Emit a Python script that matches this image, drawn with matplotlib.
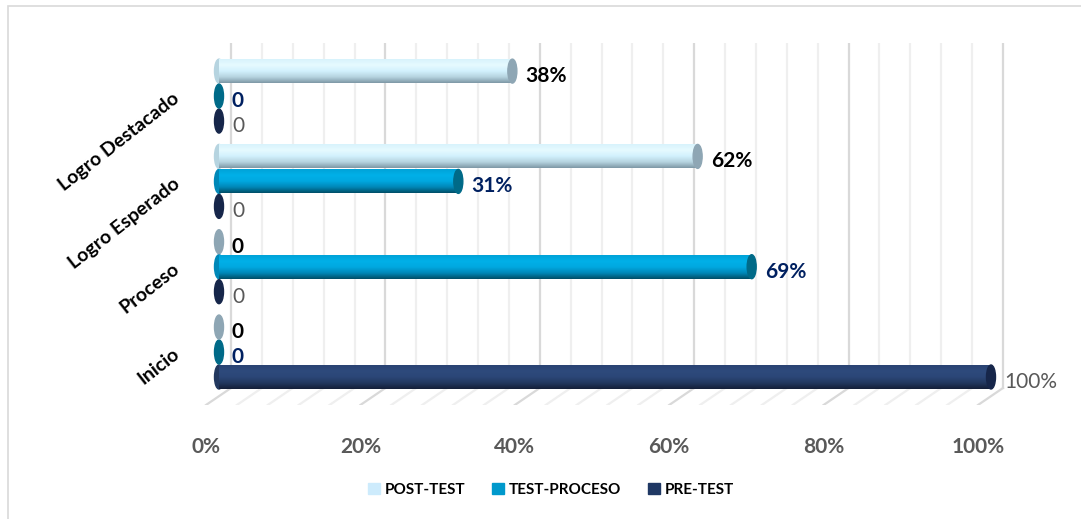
import numpy as np
import matplotlib
matplotlib.use("Agg")
import matplotlib.pyplot as plt
from matplotlib.patches import Ellipse, Rectangle, Patch
from matplotlib.transforms import ScaledTranslation
from matplotlib.colors import LinearSegmentedColormap

plt.rcParams['font.family'] = ['Lato', 'DejaVu Sans']

# data
categories = ["Inicio", "Proceso", "Logro Esperado", "Logro Destacado"]
pre_test = [1.00, 0.0, 0.0, 0.0]
test_proceso = [0.0, 0.69, 0.31, 0.0]
post_test = [0.0, 0.0, 0.62, 0.38]
x_ticks = [0, 0.2, 0.4, 0.6, 0.8, 1.0]
x_tick_labels = ["0%", "20%", "40%", "60%", "80%", "100%"]

# layout in pixels (figure is 1081x519 at dpi 100)
W, H, DPI = 1081, 519, 100
X0, X1 = 219, 991          # pixel of 0% and 100%
Y0, DY = 352, 85.3         # pixel of first category, spacing
AX_L, AX_R, AX_T, AX_B = 190, 1010, 43, 405
FLOOR_BACK = 388
px = 1.0 / (X1 - X0)        # data units per pixel (x)

fig = plt.figure(figsize=(W / DPI, H / DPI), dpi=DPI)
fig.patches.append(Rectangle((8 / W, -0.1), 1.2, 1 - 6 / H + 0.1, transform=fig.transFigure,
                             fill=False, ec='#d9d9d9', lw=1.2))
ax = fig.add_axes([AX_L / W, 1 - AX_B / H, (AX_R - AX_L) / W, (AX_B - AX_T) / H])
xlim = ((AX_L - X0) * px, (AX_R - X0) * px)
ylim = ((Y0 - AX_B) / DY, (Y0 - AX_T) / DY)
y_back = (Y0 - FLOOR_BACK) / DY

# back wall + floor grid
for k in range(26):
    x = k * 0.04
    c = '#d9d9d9' if k % 5 == 0 else '#efefef'
    ax.plot([x + 12 * px, x + 12 * px], [y_back, ylim[1]], color=c, lw=1.6, zorder=0)
    ax.plot([x + 12 * px, x - 13 * px], [y_back, ylim[0]], color=c, lw=1.6, zorder=0)

series = [
    # name, values, offset, gradient (bottom->top), cap, legend color, label color, weight
    ("PRE-TEST", pre_test, -0.293, ['#141f38', '#22385f', '#2b4677', '#2e4a7c', '#2a4373'],
     '#16264a', '#1f3864', '#595959', 'normal'),
    ("TEST-PROCESO", test_proceso, 0.0, ['#004f68', '#0088b8', '#00a8e0', '#00b0e8', '#00a3d8'],
     '#006a88', '#0099cc', '#002060', 'bold'),
    ("POST-TEST", post_test, 0.293, ['#7f98a6', '#b6d4e0', '#d2f1fd', '#e6faff', '#d8f3fc'],
     '#8ea6b4', '#cdebfc', '#000000', 'bold'),
]
h = 0.281
cap_w = 9 * px
label_off = ax.transData + ScaledTranslation(13 / DPI, -5 / DPI, fig.dpi_scale_trans)

for name, vals, off, grad, cap, lc, tc, wt in series:
    cmap = LinearSegmentedColormap.from_list(name, grad)
    ys = np.arange(len(categories)) + off
    bars = ax.barh(ys, vals, height=h, color=grad[2], lw=0, zorder=2)
    for b, v, y in zip(bars, vals, ys):
        if v > 0:
            ax.add_patch(Ellipse((0, y), cap_w, h, color=grad[1], zorder=1.5))
            im = ax.imshow(np.linspace(0, 1, 60).reshape(-1, 1), cmap=cmap, origin='lower',
                           extent=(0, v, y - h / 2, y + h / 2), aspect='auto', zorder=2.5)
            im.set_clip_path(b)
        ax.add_patch(Ellipse((v, y), cap_w, h, color=cap, zorder=3))
        txt = f"{v:.0%}" if v > 0 else "0"
        ax.text(v, y, txt, transform=label_off, ha='left', va='center', fontsize=15,
                color=tc, fontweight=wt)

ax.set_xlim(xlim)
ax.set_ylim(ylim)
for s in ax.spines.values():
    s.set_visible(False)
ax.set_xticks(x_ticks)
ax.set_xticklabels(x_tick_labels, fontsize=15, fontweight='bold', color='#595959')
ax.tick_params(axis='x', length=0, pad=23)
shift = ScaledTranslation(-13 / DPI, 0, fig.dpi_scale_trans)
for lab in ax.get_xticklabels():
    lab.set_transform(lab.get_transform() + shift)
ax.set_yticks(np.arange(len(categories)))
ax.set_yticklabels(categories, fontsize=14, fontweight='bold', rotation=38,
                   ha='right', va='center', rotation_mode='anchor')
ax.tick_params(axis='y', length=0, pad=9)

handles = [Patch(color=s[5], label=s[0]) for s in series[::-1]]
fig.legend(handles=handles, loc='center', bbox_to_anchor=(551 / W, 1 - 490 / H), ncol=3,
           frameon=False, prop={'size': 11, 'weight': 'bold'}, handlelength=0.75,
           handleheight=0.75, handletextpad=0.3, columnspacing=1.8)

fig.savefig("out.png", dpi=DPI)
